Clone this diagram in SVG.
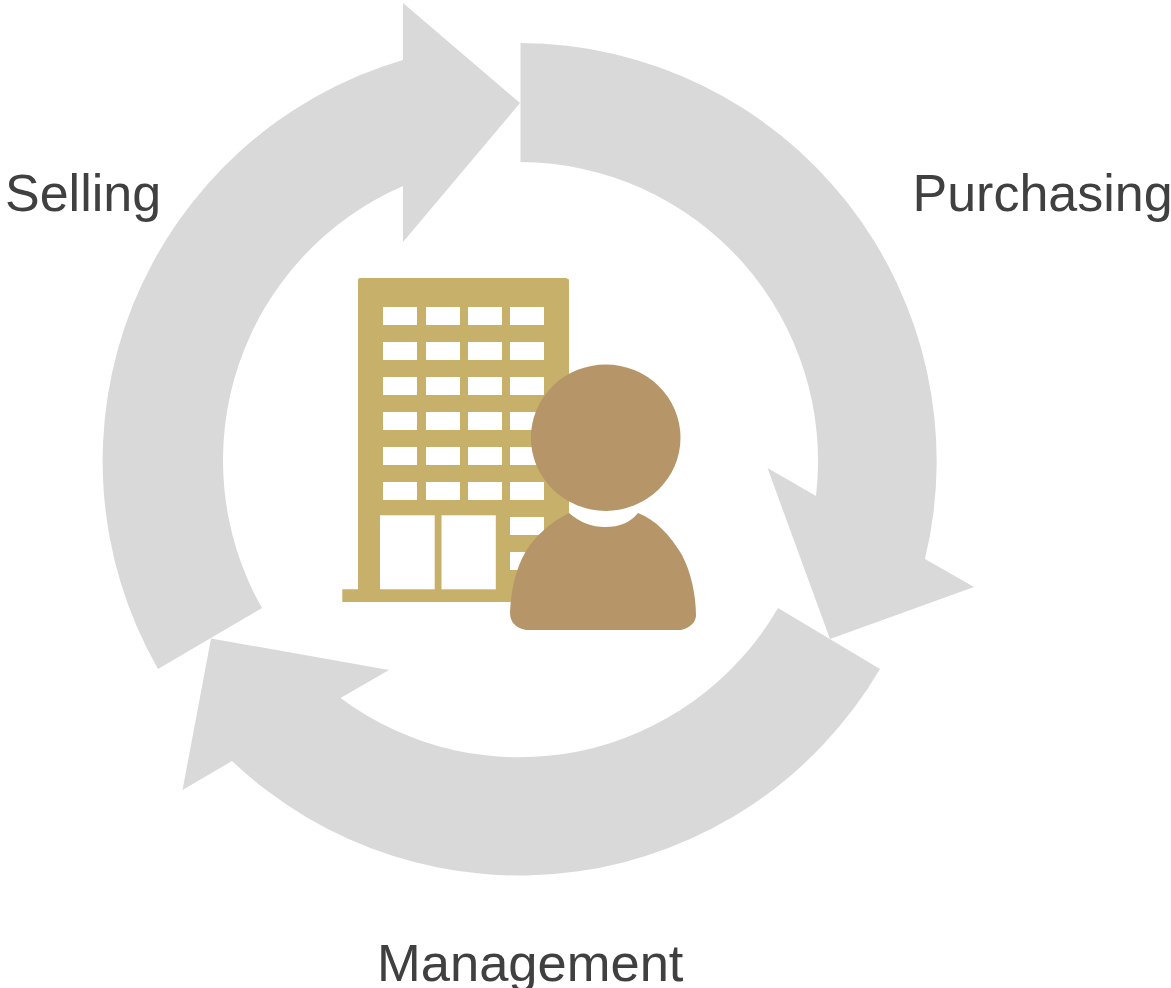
<svg xmlns="http://www.w3.org/2000/svg" width="1171" height="988" viewBox="0 0 1171 988">
<style>
.arrow{fill:#d9d9d9}
.label{font-family:"Liberation Sans",Arial,sans-serif;font-size:52px;fill:#404040}
.win{fill:#fff}
</style>
<rect width="1171" height="988" fill="#fff"/>
<g id="connectors">
<path class="arrow" d="M520.500 43A418 418 0 0 1 925 559L974 587L830 639L767.500 468L816 496A299 299 0 0 0 520.500 162Z"/>
<path class="arrow" d="M880 669A418 418 0 0 1 232 761L182.500 790L211 638.500L389 670L340.500 698A299 299 0 0 0 778 608Z"/>
<path class="arrow" d="M158 669A418 418 0 0 1 403 60V3L520 103L403 242V186A299 299 0 0 0 262 608Z"/>
</g>
<g id="selling"><text class="label" x="5" y="211">Selling</text></g>
<g id="purchasing"><text class="label" x="912.500" y="211">Purchasing</text></g>
<g id="management"><text class="label" x="377" y="981" style="font-size:52.500px">Management</text></g>
<g id="building">
<path fill="#c6b06a" d="M342.300 589.300H358V280Q358 278 360 278H566L569 279.500V602H342.300Z"/>
<g class="win">
<rect x="383" y="307" width="34" height="18"/><rect x="426" y="307" width="34" height="18"/><rect x="468" y="307" width="34" height="18"/><rect x="510" y="307" width="34" height="18"/>
<rect x="383" y="342" width="34" height="18"/><rect x="426" y="342" width="34" height="18"/><rect x="468" y="342" width="34" height="18"/><rect x="510" y="342" width="34" height="18"/>
<rect x="383" y="377" width="34" height="18"/><rect x="426" y="377" width="34" height="18"/><rect x="468" y="377" width="34" height="18"/><rect x="510" y="377" width="34" height="18"/>
<rect x="383" y="412" width="34" height="18"/><rect x="426" y="412" width="34" height="18"/><rect x="468" y="412" width="34" height="18"/><rect x="510" y="412" width="34" height="18"/>
<rect x="383" y="447" width="34" height="18"/><rect x="426" y="447" width="34" height="18"/><rect x="468" y="447" width="34" height="18"/><rect x="510" y="447" width="34" height="18"/>
<rect x="383" y="482" width="34" height="18"/><rect x="426" y="482" width="34" height="18"/><rect x="468" y="482" width="34" height="18"/><rect x="510" y="482" width="34" height="18"/>
<rect x="510" y="517" width="34" height="18"/><rect x="510" y="552" width="34" height="18"/>
<rect x="380" y="515.300" width="54.700" height="74"/><rect x="441.500" y="515.300" width="54.300" height="74"/>
</g>
</g>
<g id="person">
<ellipse cx="605.700" cy="437.700" rx="74.800" ry="73.200" fill="#b69568"/>
<path fill="#b69568" d="M569 513Q585 527 605 527Q627 527 638 513C656 520 670 535 682 555C691 572 696 595 696 616Q695 626 681 630H526Q510 627 510 612Q512 570 530 545Q545 525 569 513Z"/>
</g>
</svg>
